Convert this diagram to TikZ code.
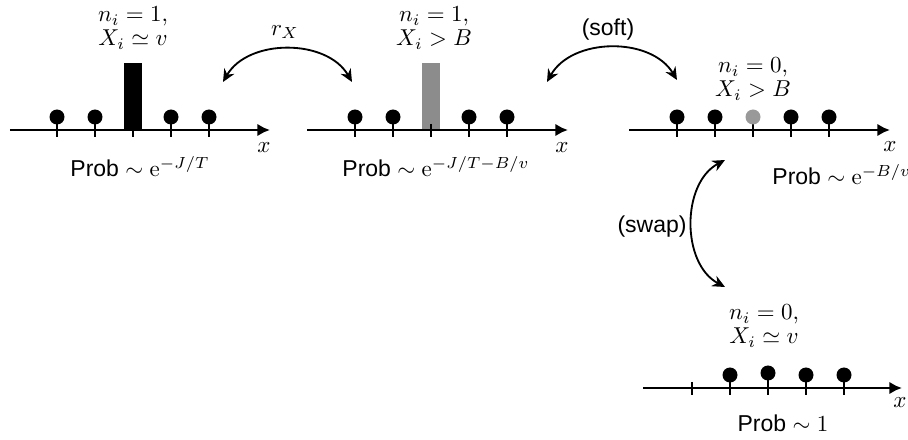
\documentclass[tikz,border=0pt]{standalone}
\usepackage{amsmath}
\usepackage{amssymb}
\usepackage{fontspec}
\setsansfont{Liberation Sans}
\usepackage{tikz}
\usetikzlibrary{arrows.meta}

\begin{document}
\begin{tikzpicture}[
  x=0.01529cm, y=-0.01529cm,
  axis/.style={very thick, -{Latex[length=5.5pt,width=5.5pt]}},
  tickmark/.style={line width=1.1pt},
  swing/.style={thick, {Stealth[length=5.5pt,width=5pt]}-{Stealth[length=5.5pt,width=5pt]}},
  lab/.style={font=\sffamily, inner sep=0pt},
  state/.style={align=center, inner sep=0pt},
]
\useasboundingbox (0,0) rectangle (908,440);

\fill (124,63) rectangle (142,130);
\draw[tickmark] (133,124) -- (133,137);
\foreach \x in {57,95,171,209} {
  \draw[tickmark] (\x,117) -- (\x,137);
  \fill (\x,117) circle (7.5);
}
\draw[axis] (10,130) -- (270,130);
\node[state] (st1) at (133,28) {$n_i=1,$\\[-1.5pt]$X_i\simeq v$};
\node (x1) at (264,148) {$x$};
\node[lab, anchor=base] (p1) at (140,177) {Prob $\sim\mathrm{e}^{-J/T}$};

\fill[black!45] (422,63) rectangle (440,130);
\draw[tickmark] (431,124) -- (431,137);
\foreach \x in {355,393,469,507} {
  \draw[tickmark] (\x,117) -- (\x,137);
  \fill (\x,117) circle (7.5);
}
\draw[axis] (307,130) -- (568,130);
\node[state] (st2) at (434,28) {$n_i=1,$\\[-1.5pt]$X_i>B$};
\node (x2) at (562,148) {$x$};
\node[lab, anchor=base] (p2) at (436,177) {Prob $\sim\mathrm{e}^{-J/T-B/v}$};

\foreach \x in {677,715,791,829} {
  \draw[tickmark] (\x,117) -- (\x,137);
  \fill (\x,117) circle (7.5);
}
\draw[tickmark] (753,117) -- (753,137);
\fill[black!40] (753,117) circle (7.5);
\draw[axis] (629,130) -- (890,130);
\node[state] (st3) at (753,79) {$n_i=0,$\\[-1.5pt]$X_i>B$};
\node (x3) at (890,147) {$x$};
\node[lab, anchor=base west] (p3) at (772,185) {Prob $\sim\mathrm{e}^{-B/v}$};

\draw[tickmark] (692,382) -- (692,395);
\foreach \x in {730,806,844} {
  \draw[tickmark] (\x,375) -- (\x,395);
  \fill (\x,375) circle (7.5);
}
\draw[tickmark] (768,373) -- (768,395);
\fill (768,373) circle (7.5);
\draw[axis] (643,388) -- (902,388);
\node[state] (st4) at (764,326) {$n_i=0,$\\[-1.5pt]$X_i\simeq v$};
\node (x4) at (900,403) {$x$};
\node[lab, anchor=base] (p4) at (783,432) {Prob $\sim 1$};

\coordinate (rL) at (223,82);
\coordinate (rR) at (352,82);
\coordinate (sL) at (547,82);
\coordinate (sR) at (677,80);
\coordinate (wT) at (725,160);
\coordinate (wB) at (725,287);
\draw[swing] (rL) to[bend left=60] (rR);
\draw[swing] (sL) to[bend left=60] (sR);
\draw[swing] (wT) to[bend right=62] (wB);
\node (rx) at (285,32) {$r_X$};
\node[lab] (soft) at (608,30) {(soft)};
\node[lab] (swap) at (652,227) {(swap)};
\end{tikzpicture}
\end{document}
